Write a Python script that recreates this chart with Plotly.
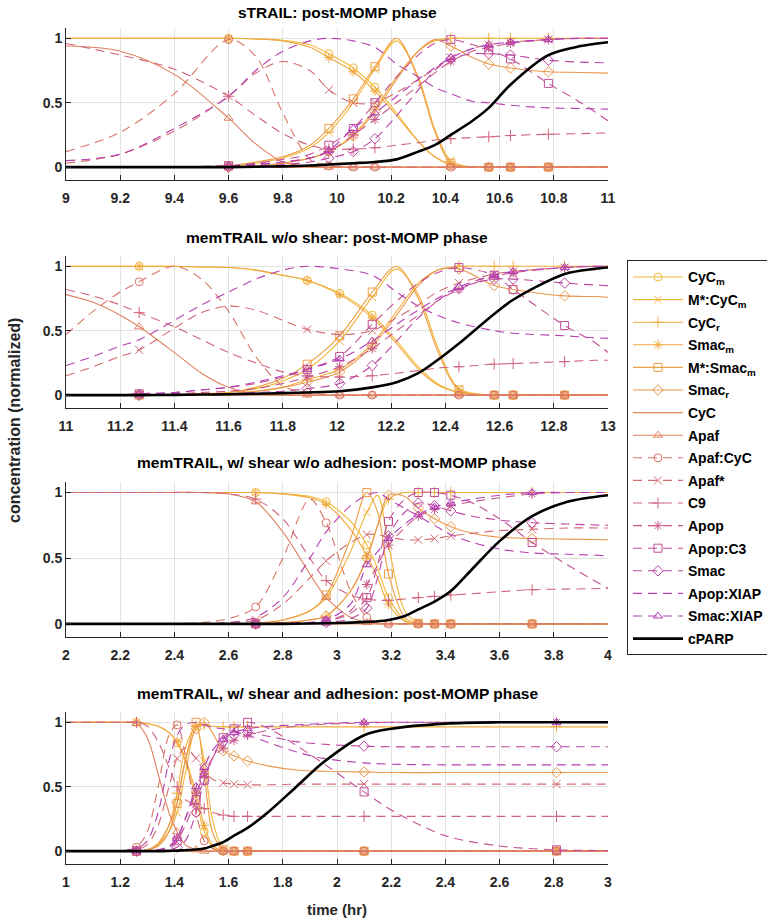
import plotly.graph_objects as go

# ---------------- series definitions ----------------
names = ["CyC<sub>m</sub>", "M*:CyC<sub>m</sub>", "CyC<sub>r</sub>", "Smac<sub>m</sub>",
         "M*:Smac<sub>m</sub>", "Smac<sub>r</sub>", "CyC", "Apaf", "Apaf:CyC", "Apaf*",
         "C9", "Apop", "Apop:C3", "Smac", "Apop:XIAP", "Smac:XIAP", "cPARP"]
colors = ["#F4BA3A", "#F3B53B", "#F2AF3D", "#F0A83F", "#EE9F45", "#EB974B", "#E58A57",
          "#E0805F", "#DA7468", "#D56B72", "#D0637D", "#C95889", "#C34F96", "#BD47A3",
          "#B740AF", "#B03ABB", "#000000"]
dashes = ["solid", "solid", "solid", "solid", "solid", "solid", "solid", "solid",
          "9px,6px", "9px,6px", "9px,6px", "9px,6px", "9px,6px", "9px,6px", "9px,6px",
          "9px,6px", "solid"]
symbols = ["circle-open", "x-thin-open", "cross-thin-open", "asterisk-open", "square-open",
           "diamond-open", None, "triangle-up-open", "circle-open", "x-thin-open",
           "cross-thin-open", "asterisk-open", "square-open", "diamond-open", None,
           "triangle-up-open", None]

titles = ["sTRAIL: post-MOMP phase",
          "memTRAIL w/o shear: post-MOMP phase",
          "memTRAIL, w/ shear w/o adhesion: post-MOMP phase",
          "memTRAIL, w/ shear and adhesion: post-MOMP phase"]
x_ranges = [[9, 11], [11, 13], [2, 4], [1, 3]]
y_ticks = [0, 0.5, 1]

# ---------------- panel 1: sTRAIL ----------------
t1 = [9.0, 9.2, 9.4, 9.6, 9.7, 9.8, 9.9, 9.97, 10.06, 10.14, 10.22, 10.3, 10.36, 10.42, 10.5,
      10.56, 10.64, 10.78, 10.9, 11.0]
mk1 = [3, 7, 8, 9, 13, 15, 16, 17]
p1_CyCm = [1, 1, 1, 1, 0.995, 0.985, 0.95, 0.88, 0.77, 0.62, 0.42, 0.2, 0.08, 0.02, 0, 0, 0, 0, 0, 0]
p1_MCyCm = [0, 0, 0, 0.01, 0.03, 0.07, 0.15, 0.27, 0.5, 0.76, 0.98, 0.7, 0.3, 0.05, 0, 0, 0, 0, 0, 0]
p1_CyCr = [0, 0, 0, 0, 0.01, 0.03, 0.07, 0.12, 0.25, 0.45, 0.7, 0.9, 0.98, 1, 1, 1, 1, 1, 1, 1]
p1_Smacm = [1, 1, 1, 1, 0.995, 0.98, 0.93, 0.85, 0.74, 0.59, 0.4, 0.2, 0.08, 0.02, 0, 0, 0, 0, 0, 0]
p1_MSmacm = [0, 0, 0, 0.01, 0.04, 0.08, 0.17, 0.3, 0.53, 0.78, 1.0, 0.68, 0.28, 0.03, 0, 0, 0, 0, 0, 0]
p1_Smacr = [0, 0, 0, 0, 0.01, 0.03, 0.07, 0.12, 0.24, 0.43, 0.68, 0.9, 0.99, 0.94, 0.85, 0.8, 0.77, 0.74, 0.735, 0.73]
p1_CyC = [0, 0, 0, 0, 0, 0, 0, 0, 0, 0, 0, 0, 0, 0, 0, 0, 0, 0, 0, 0]
p1_Apaf = [0.94, 0.9, 0.72, 0.38, 0.18, 0.04, 0.005, 0, 0, 0, 0, 0, 0, 0, 0, 0, 0, 0, 0, 0]
p1_ApafCyC = [0.12, 0.27, 0.57, 0.99, 0.86, 0.42, 0.06, 0.01, 0, 0, 0, 0, 0, 0, 0, 0, 0, 0, 0, 0]
p1_Apafs = [0.03, 0.1, 0.28, 0.55, 0.73, 0.82, 0.75, 0.6, 0.5, 0.5, 0.58, 0.68, 0.76, 0.85, 0.92, 0.95, 0.97, 0.99, 1, 1]
p1_C9 = [0.96, 0.87, 0.76, 0.55, 0.4, 0.26, 0.17, 0.14, 0.14, 0.15, 0.17, 0.19, 0.21, 0.22, 0.23, 0.235, 0.245, 0.255, 0.26, 0.265]
p1_Apop = [0, 0, 0, 0.01, 0.02, 0.04, 0.07, 0.12, 0.25, 0.37, 0.5, 0.63, 0.73, 0.82, 0.9, 0.93, 0.96, 0.99, 1, 1]
p1_ApopC3 = [0, 0, 0, 0.01, 0.03, 0.06, 0.1, 0.17, 0.3, 0.5, 0.7, 0.87, 0.96, 0.99, 0.95, 0.91, 0.84, 0.65, 0.5, 0.36]
p1_Smac = [0, 0, 0, 0, 0.01, 0.02, 0.04, 0.07, 0.12, 0.22, 0.4, 0.6, 0.75, 0.84, 0.88, 0.88, 0.87, 0.83, 0.815, 0.81]
p1_ApopXIAP = [0.05, 0.1, 0.3, 0.55, 0.75, 0.9, 0.98, 1.0, 0.98, 0.93, 0.8, 0.7, 0.62, 0.57, 0.51, 0.5, 0.48, 0.46, 0.455, 0.45]
p1_SmacXIAP = [0, 0, 0, 0.01, 0.02, 0.04, 0.07, 0.13, 0.3, 0.42, 0.55, 0.68, 0.77, 0.85, 0.92, 0.95, 0.97, 0.99, 1, 1]
p1_cPARP = [0, 0, 0, 0, 0.003, 0.006, 0.012, 0.02, 0.03, 0.04, 0.06, 0.12, 0.17, 0.25, 0.36, 0.46, 0.64, 0.87, 0.94, 0.97]

# ---------------- panel 2: memTRAIL w/o shear ----------------
t2 = [11.0, 11.1, 11.2, 11.27, 11.4, 11.5, 11.6, 11.7, 11.8, 11.89, 12.01, 12.13, 12.22, 12.3,
      12.37, 12.45, 12.58, 12.65, 12.84, 12.95, 13.0]
mk2 = [3, 9, 10, 11, 15, 16, 17, 18]
p2_CyCm = [1, 1, 1, 1, 1, 0.995, 0.99, 0.97, 0.93, 0.89, 0.79, 0.62, 0.42, 0.22, 0.09, 0.02, 0, 0, 0, 0, 0]
p2_MCyCm = [0, 0, 0, 0, 0.005, 0.01, 0.02, 0.05, 0.11, 0.2, 0.42, 0.76, 0.98, 0.78, 0.38, 0.05, 0, 0, 0, 0, 0]
p2_CyCr = [0, 0, 0, 0, 0, 0.005, 0.01, 0.03, 0.06, 0.12, 0.2, 0.4, 0.65, 0.87, 0.97, 1, 1, 1, 1, 1, 1]
p2_Smacm = [1, 1, 1, 1, 1, 0.995, 0.99, 0.97, 0.93, 0.89, 0.78, 0.6, 0.4, 0.2, 0.08, 0.02, 0, 0, 0, 0, 0]
p2_MSmacm = [0, 0, 0, 0, 0.005, 0.01, 0.02, 0.06, 0.13, 0.24, 0.46, 0.8, 1.0, 0.75, 0.35, 0.04, 0, 0, 0, 0, 0]
p2_Smacr = [0, 0, 0, 0, 0, 0.005, 0.01, 0.03, 0.06, 0.1, 0.18, 0.38, 0.62, 0.85, 0.97, 0.98, 0.85, 0.82, 0.77, 0.765, 0.76]
p2_CyC = [0, 0, 0, 0, 0, 0, 0, 0, 0, 0, 0, 0, 0, 0, 0, 0, 0, 0, 0, 0, 0]
p2_Apaf = [0.78, 0.72, 0.62, 0.53, 0.33, 0.17, 0.06, 0.01, 0, 0, 0, 0, 0, 0, 0, 0, 0, 0, 0, 0, 0]
p2_ApafCyC = [0.47, 0.65, 0.8, 0.88, 1.0, 0.9, 0.65, 0.3, 0.07, 0.02, 0, 0, 0, 0, 0, 0, 0, 0, 0, 0, 0]
p2_Apafs = [0.15, 0.22, 0.3, 0.35, 0.52, 0.64, 0.69, 0.66, 0.58, 0.51, 0.47, 0.5, 0.6, 0.7, 0.8, 0.87, 0.94, 0.96, 0.99, 1, 1]
p2_C9 = [0.82, 0.77, 0.7, 0.64, 0.53, 0.43, 0.33, 0.25, 0.18, 0.15, 0.14, 0.15, 0.17, 0.19, 0.21, 0.22, 0.24, 0.245, 0.26, 0.27, 0.27]
p2_Apop = [0, 0, 0, 0.01, 0.01, 0.02, 0.03, 0.05, 0.09, 0.14, 0.22, 0.36, 0.5, 0.62, 0.73, 0.82, 0.92, 0.95, 0.99, 1, 1]
p2_ApopC3 = [0, 0, 0, 0.01, 0.02, 0.04, 0.06, 0.09, 0.14, 0.2, 0.3, 0.55, 0.73, 0.87, 0.95, 0.99, 0.93, 0.82, 0.54, 0.41, 0.33]
p2_Smac = [0, 0, 0, 0, 0, 0.005, 0.01, 0.02, 0.03, 0.05, 0.09, 0.23, 0.42, 0.6, 0.73, 0.83, 0.9, 0.9, 0.87, 0.855, 0.85]
p2_ApopXIAP = [0.23, 0.3, 0.38, 0.43, 0.58, 0.7, 0.8, 0.9, 0.97, 1.0, 0.98, 0.93, 0.8, 0.69, 0.62, 0.56, 0.5, 0.48, 0.46, 0.445, 0.44]
p2_SmacXIAP = [0, 0, 0, 0.01, 0.02, 0.04, 0.06, 0.1, 0.15, 0.2, 0.28, 0.42, 0.55, 0.66, 0.75, 0.84, 0.93, 0.96, 0.99, 1, 1]
p2_cPARP = [0, 0, 0, 0, 0.002, 0.004, 0.006, 0.01, 0.015, 0.02, 0.03, 0.06, 0.1, 0.17, 0.27, 0.4, 0.63, 0.74, 0.94, 0.98, 0.99]

# ---------------- panel 3: memTRAIL, w/ shear w/o adhesion ----------------
t3 = [2.0, 2.3, 2.5, 2.6, 2.7, 2.8, 2.9, 2.96, 3.05, 3.11, 3.15, 3.19, 3.25, 3.3, 3.36, 3.42,
      3.5, 3.6, 3.72, 3.85, 4.0]
mk3 = [4, 7, 9, 11, 13, 14, 15, 18]
p3_CyCm = [1, 1, 1, 1, 1, 0.99, 0.97, 0.93, 0.78, 0.6, 0.42, 0.2, 0.03, 0, 0, 0, 0, 0, 0, 0, 0]
p3_MCyCm = [0, 0, 0, 0, 0.005, 0.03, 0.1, 0.2, 0.55, 0.85, 0.98, 0.6, 0.1, 0.01, 0, 0, 0, 0, 0, 0, 0]
p3_CyCr = [0, 0, 0, 0, 0, 0.01, 0.03, 0.06, 0.25, 0.5, 0.75, 0.95, 1, 1, 1, 1, 1, 1, 1, 1, 1]
p3_Smacm = [1, 1, 1, 1, 1, 0.99, 0.96, 0.91, 0.72, 0.52, 0.35, 0.15, 0.02, 0, 0, 0, 0, 0, 0, 0, 0]
p3_MSmacm = [0, 0, 0, 0, 0.005, 0.03, 0.1, 0.22, 0.65, 1.0, 0.85, 0.38, 0.05, 0.005, 0, 0, 0, 0, 0, 0, 0]
p3_Smacr = [0, 0, 0, 0, 0, 0.01, 0.03, 0.06, 0.25, 0.5, 0.75, 0.98, 0.97, 0.88, 0.8, 0.74, 0.69, 0.66, 0.65, 0.645, 0.64]
p3_CyC = [0, 0, 0, 0, 0, 0, 0, 0, 0, 0, 0, 0, 0, 0, 0, 0, 0, 0, 0, 0, 0]
p3_Apaf = [1, 1, 1, 0.99, 0.93, 0.7, 0.38, 0.2, 0.05, 0.01, 0, 0, 0, 0, 0, 0, 0, 0, 0, 0, 0]
p3_ApafCyC = [0, 0, 0.01, 0.04, 0.13, 0.5, 0.95, 0.77, 0.25, 0.05, 0.01, 0, 0, 0, 0, 0, 0, 0, 0, 0, 0]
p3_Apafs = [0, 0, 0, 0.01, 0.03, 0.15, 0.35, 0.48, 0.62, 0.68, 0.68, 0.66, 0.64, 0.64, 0.65, 0.67, 0.69, 0.71, 0.72, 0.73, 0.73]
p3_C9 = [1, 1, 1, 0.99, 0.95, 0.8, 0.5, 0.33, 0.22, 0.19, 0.18, 0.18, 0.19, 0.2, 0.21, 0.22, 0.23, 0.245, 0.26, 0.265, 0.27]
p3_Apop = [0, 0, 0, 0, 0, 0.005, 0.01, 0.02, 0.1, 0.3, 0.45, 0.6, 0.73, 0.82, 0.87, 0.9, 0.93, 0.96, 0.99, 1, 1]
p3_ApopC3 = [0, 0, 0, 0, 0, 0.005, 0.01, 0.02, 0.08, 0.2, 0.45, 0.78, 0.95, 1.0, 1.0, 0.98, 0.92, 0.8, 0.62, 0.45, 0.27]
p3_Smac = [0, 0, 0, 0, 0, 0, 0.005, 0.01, 0.04, 0.12, 0.35, 0.67, 0.85, 0.92, 0.9, 0.86, 0.82, 0.79, 0.77, 0.76, 0.75]
p3_ApopXIAP = [0, 0, 0, 0.01, 0.05, 0.2, 0.5, 0.7, 0.9, 0.98, 1.0, 0.95, 0.88, 0.82, 0.75, 0.68, 0.62, 0.57, 0.54, 0.53, 0.52]
p3_SmacXIAP = [0, 0, 0, 0, 0, 0.005, 0.01, 0.03, 0.15, 0.45, 0.55, 0.65, 0.76, 0.83, 0.89, 0.92, 0.95, 0.98, 1.0, 1.0, 1.0]
p3_cPARP = [0, 0, 0, 0, 0, 0, 0.003, 0.005, 0.01, 0.015, 0.02, 0.03, 0.06, 0.11, 0.17, 0.25, 0.42, 0.63, 0.82, 0.93, 0.98]

# ---------------- panel 4: memTRAIL, w/ shear and adhesion ----------------
t4 = [1.0, 1.2, 1.26, 1.3, 1.34, 1.38, 1.41, 1.44, 1.48, 1.51, 1.54, 1.58, 1.62, 1.67, 1.75,
      1.85, 1.95, 2.1, 2.2, 2.4, 2.6, 2.81, 3.0]
mk4 = [2, 6, 8, 9, 11, 12, 13, 17, 21]
p4_CyCm = [1, 1, 1, 0.99, 0.97, 0.92, 0.84, 0.7, 0.4, 0.15, 0.03, 0, 0, 0, 0, 0, 0, 0, 0, 0, 0, 0, 0]
p4_MCyCm = [0, 0, 0, 0.01, 0.05, 0.15, 0.3, 0.6, 0.97, 0.7, 0.25, 0.02, 0, 0, 0, 0, 0, 0, 0, 0, 0, 0, 0]
p4_CyCr = [0, 0, 0, 0.01, 0.05, 0.2, 0.45, 0.8, 0.97, 0.98, 0.97, 0.965, 0.965, 0.965, 0.965, 0.965, 0.965, 0.965, 0.965, 0.965, 0.965, 0.965, 0.965]
p4_Smacm = [1, 1, 1, 0.99, 0.97, 0.92, 0.85, 0.72, 0.45, 0.2, 0.05, 0, 0, 0, 0, 0, 0, 0, 0, 0, 0, 0, 0]
p4_MSmacm = [0, 0, 0, 0.01, 0.06, 0.2, 0.37, 0.7, 1.0, 0.6, 0.15, 0.01, 0, 0, 0, 0, 0, 0, 0, 0, 0, 0, 0]
p4_Smacr = [0, 0, 0, 0.01, 0.04, 0.15, 0.38, 0.7, 0.95, 1.0, 0.92, 0.78, 0.74, 0.7, 0.66, 0.63, 0.62, 0.615, 0.61, 0.61, 0.61, 0.61, 0.61]
p4_CyC = [0, 0, 0, 0, 0, 0, 0, 0, 0, 0, 0, 0, 0, 0, 0, 0, 0, 0, 0, 0, 0, 0, 0]
p4_Apaf = [1, 1, 0.99, 0.88, 0.6, 0.3, 0.15, 0.05, 0.01, 0, 0, 0, 0, 0, 0, 0, 0, 0, 0, 0, 0, 0, 0]
p4_ApafCyC = [0, 0.005, 0.03, 0.15, 0.5, 0.9, 0.98, 0.75, 0.3, 0.08, 0.02, 0, 0, 0, 0, 0, 0, 0, 0, 0, 0, 0, 0]
p4_Apafs = [0, 0, 0.01, 0.05, 0.2, 0.5, 0.72, 0.8, 0.72, 0.62, 0.56, 0.53, 0.52, 0.515, 0.515, 0.52, 0.52, 0.52, 0.52, 0.52, 0.52, 0.52, 0.52]
p4_C9 = [1, 1, 1, 0.97, 0.85, 0.65, 0.5, 0.4, 0.36, 0.33, 0.3, 0.28, 0.27, 0.27, 0.27, 0.27, 0.27, 0.27, 0.27, 0.27, 0.27, 0.27, 0.27]
p4_Apop = [0, 0, 0, 0, 0.01, 0.04, 0.1, 0.25, 0.45, 0.6, 0.72, 0.8, 0.86, 0.9, 0.94, 0.97, 0.985, 0.995, 1, 1, 1, 1, 1]
p4_ApopC3 = [0, 0, 0, 0, 0.01, 0.03, 0.08, 0.2, 0.4, 0.55, 0.72, 0.88, 0.95, 1.0, 0.95, 0.82, 0.68, 0.46, 0.32, 0.12, 0.04, 0.01, 0.005]
p4_Smac = [0, 0, 0, 0, 0, 0.01, 0.03, 0.08, 0.3, 0.55, 0.72, 0.85, 0.9, 0.92, 0.89, 0.85, 0.83, 0.815, 0.81, 0.81, 0.81, 0.81, 0.81]
p4_ApopXIAP = [0, 0.005, 0.02, 0.08, 0.3, 0.7, 0.9, 0.98, 1.0, 0.98, 0.96, 0.95, 0.93, 0.9, 0.84, 0.77, 0.72, 0.685, 0.675, 0.67, 0.67, 0.67, 0.67]
p4_SmacXIAP = [0, 0, 0, 0, 0.01, 0.03, 0.1, 0.25, 0.5, 0.65, 0.78, 0.87, 0.92, 0.95, 0.97, 0.98, 0.99, 1, 1, 1, 1, 1, 1]
p4_cPARP = [0, 0, 0, 0, 0, 0.002, 0.004, 0.007, 0.012, 0.02, 0.04, 0.07, 0.12, 0.18, 0.31, 0.5, 0.69, 0.9, 0.95, 0.99, 1.0, 1.0, 1.0]

panels = [
    (t1, mk1, [p1_CyCm, p1_MCyCm, p1_CyCr, p1_Smacm, p1_MSmacm, p1_Smacr, p1_CyC, p1_Apaf,
               p1_ApafCyC, p1_Apafs, p1_C9, p1_Apop, p1_ApopC3, p1_Smac, p1_ApopXIAP,
               p1_SmacXIAP, p1_cPARP]),
    (t2, mk2, [p2_CyCm, p2_MCyCm, p2_CyCr, p2_Smacm, p2_MSmacm, p2_Smacr, p2_CyC, p2_Apaf,
               p2_ApafCyC, p2_Apafs, p2_C9, p2_Apop, p2_ApopC3, p2_Smac, p2_ApopXIAP,
               p2_SmacXIAP, p2_cPARP]),
    (t3, mk3, [p3_CyCm, p3_MCyCm, p3_CyCr, p3_Smacm, p3_MSmacm, p3_Smacr, p3_CyC, p3_Apaf,
               p3_ApafCyC, p3_Apafs, p3_C9, p3_Apop, p3_ApopC3, p3_Smac, p3_ApopXIAP,
               p3_SmacXIAP, p3_cPARP]),
    (t4, mk4, [p4_CyCm, p4_MCyCm, p4_CyCr, p4_Smacm, p4_MSmacm, p4_Smacr, p4_CyC, p4_Apaf,
               p4_ApafCyC, p4_Apafs, p4_C9, p4_Apop, p4_ApopC3, p4_Smac, p4_ApopXIAP,
               p4_SmacXIAP, p4_cPARP]),
]

# ---------------- layout geometry ----------------
W, H = 767, 924
ML, MR, MT, MB = 66, 159, 28, 60
domains = [[0.8182, 1.0], [0.5455, 0.7273], [0.2715, 0.4569], [0.0, 0.1818]]
title_y = [1.018, 0.749, 0.4797, 0.2045]

FONT = "Liberation Sans, Arial, Helvetica, sans-serif"
fig = go.Figure()


def lw(j):
    return 2.6 if j == 16 else 1.1


# legend entries (drawn first so legend order follows the series order)
for j, nm in enumerate(names):
    mode = "lines+markers" if symbols[j] else "lines"
    fig.add_trace(go.Scatter(
        x=[None], y=[None], name=nm, mode=mode, legendgroup="g%d" % j,
        line=dict(color=colors[j], width=lw(j), dash=dashes[j]),
        marker=dict(symbol=symbols[j] or "circle", size=8, color=colors[j],
                    line=dict(width=1, color=colors[j])),
        showlegend=True, xaxis="x", yaxis="y"))

for i, (t, mk, ys) in enumerate(panels):
    sfx = "" if i == 0 else str(i + 1)
    for j, y in enumerate(ys):
        fig.add_trace(go.Scatter(
            x=t, y=y, mode="lines", showlegend=False, hoverinfo="skip",
            line=dict(color=colors[j], width=lw(j), dash=dashes[j],
                      shape="spline", smoothing=0.9),
            xaxis="x" + sfx, yaxis="y" + sfx))
        if symbols[j]:
            fig.add_trace(go.Scatter(
                x=[t[k] for k in mk], y=[y[k] for k in mk], mode="markers",
                showlegend=False, hoverinfo="skip",
                marker=dict(symbol=symbols[j], size=8, color=colors[j],
                            line=dict(width=1, color=colors[j])),
                xaxis="x" + sfx, yaxis="y" + sfx))

axis_common = dict(showline=True, linecolor="#262626", linewidth=1, mirror=False,
                   ticks="inside", ticklen=5, tickcolor="#262626", tickwidth=1,
                   showgrid=True, gridcolor="#e2e2e2", gridwidth=1, zeroline=False,
                   automargin=False,
                   tickfont=dict(family=FONT, size=14, color="#262626", weight="bold"))

layout_axes = {}
for i in range(4):
    sfx = "" if i == 0 else str(i + 1)
    layout_axes["xaxis" + sfx] = dict(axis_common, domain=[0, 1], range=x_ranges[i],
                                      anchor="y" + sfx, tick0=x_ranges[i][0], dtick=0.2,
                                      ticklabelstandoff=5)
    layout_axes["yaxis" + sfx] = dict(axis_common, domain=domains[i], range=[-0.1, 1.08],
                                      anchor="x" + sfx, tickvals=y_ticks)

annotations = []
for i in range(4):
    annotations.append(dict(text="<b>" + titles[i] + "</b>", x=0.5, y=title_y[i],
                            xref="paper", yref="paper", showarrow=False,
                            xanchor="center", yanchor="middle",
                            font=dict(family=FONT, size=15.5, color="#000000")))
annotations.append(dict(text="<b>time (hr)</b>", x=0.5, y=-0.055, xref="paper", yref="paper",
                        showarrow=False, xanchor="center", yanchor="middle",
                        font=dict(family=FONT, size=15, color="#262626")))
annotations.append(dict(text="<b>concentration (normalized)</b>", x=-0.094, y=0.53,
                        xref="paper", yref="paper", showarrow=False, textangle=-90,
                        xanchor="center", yanchor="middle",
                        font=dict(family=FONT, size=16, color="#262626")))

fig.update_layout(
    width=W, height=H, margin=dict(l=ML, r=MR, t=MT, b=MB, autoexpand=False),
    paper_bgcolor="white", plot_bgcolor="white",
    showlegend=True, hovermode=False,
    legend=dict(x=1.035, y=0.722, xanchor="left", yanchor="top",
                bordercolor="#262626", borderwidth=1, bgcolor="white",
                font=dict(family=FONT, size=14, color="#000000", weight="bold"),
                itemwidth=50, tracegroupgap=1.4, traceorder="grouped"),
    annotations=annotations,
    **layout_axes)

# remove the browser's default 8px page margin so the figure sits at the window origin
fig.write_html("out.html", config={"displayModeBar": False},
               post_script="document.body.style.margin='0px';document.body.style.overflow='hidden';")
